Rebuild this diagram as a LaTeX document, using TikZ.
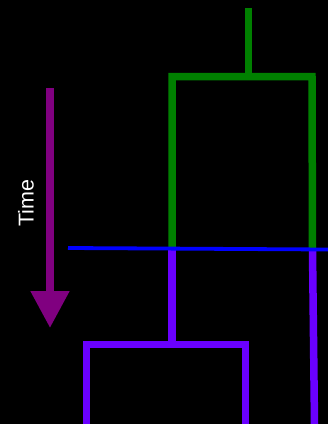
\documentclass[tikz,border=0pt]{standalone}
\usepackage{fontspec}
\setmainfont{Liberation Sans}
\usetikzlibrary{arrows.meta}
\definecolor{treegreen}{RGB}{0,128,0}
\definecolor{treeviolet}{RGB}{106,0,255}
\definecolor{timepurple}{RGB}{128,0,128}
\definecolor{cutblue}{RGB}{0,0,255}
\begin{document}
\begin{tikzpicture}[x=1pt,y=-1pt,
  branch/.style={line width=7.5pt,line cap=butt,line join=miter},
  oldbranch/.style={branch,draw=treegreen},
  newbranch/.style={branch,draw=treeviolet},
  cutline/.style={line width=3.8pt,draw=cutblue},
  timearrow/.style={line width=8pt,draw=timepurple,fill=timepurple,
    -{Triangle[width=37pt,length=37pt]}},
  timelabel/.style={text=white,font=\fontsize{21.5}{25}\selectfont,rotate=90,inner sep=0pt}]
  % background and frame
  \fill[black] (0,0) rectangle (328,424);
  \useasboundingbox (0,0) rectangle (328,424);

  % tree points
  \coordinate (root) at (248.5,8);
  \coordinate (gbar) at (248.5,76.5);
  \coordinate (gl) at (172,76.5);
  \coordinate (gr) at (312,76.5);
  \coordinate (glcut) at (172,248.5);
  \coordinate (grcut) at (312.5,249.5);
  \coordinate (pbar) at (172,344.5);
  \coordinate (pl) at (86.5,344.5);
  \coordinate (pr) at (245.5,344.5);
  \coordinate (plend) at (86.5,424);
  \coordinate (prend) at (245.5,424);
  \coordinate (rend) at (314.5,424);

  % time cut
  \coordinate (cutL) at (68,248);
  \coordinate (cutR) at (328,249.5);

  % time axis
  \coordinate (tstart) at (50,88);
  \coordinate (tend) at (50,328);

  % older lineage (green)
  \draw[oldbranch] (root) -- (gbar);
  \draw[oldbranch] (glcut) -- (gl) -- (gr) -- (grcut);

  % newer lineage (violet)
  \draw[newbranch] (glcut) -- (pbar);
  \draw[newbranch] (plend) -- (pl) -- (pr) -- (prend);
  \draw[newbranch] (grcut) -- (rend);

  % present-time line
  \draw[cutline] (cutL) -- (cutR);

  % time arrow with label
  \draw[timearrow] (tstart) -- (tend);
  \node[timelabel] (time) at (26,203.5) {Time};
\end{tikzpicture}
\end{document}
